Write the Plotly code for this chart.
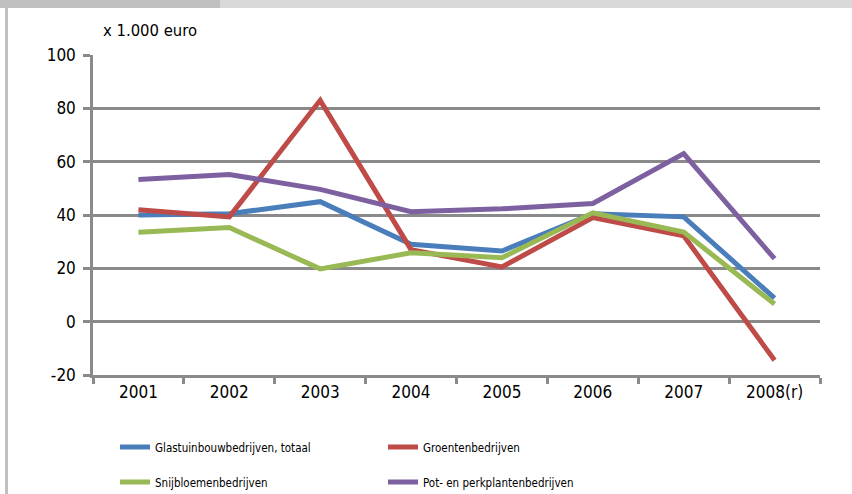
import plotly.graph_objects as go

# jaren (categorie-as)
years = ['2001', '2002', '2003', '2004', '2005', '2006', '2007', '2008(r)']

# x 1.000 euro
glastuinbouw = [40, 40.5, 45, 29, 26.5, 40.5, 39.3, 8.8]
groenten = [42, 39.3, 83, 27, 20.5, 39, 32.2, -14.5]
snijbloemen = [33.5, 35.3, 19.8, 25.8, 24, 40.8, 33.6, 6.6]
potplanten = [53.3, 55.2, 49.6, 41.2, 42.3, 44.3, 63, 23.6]

y_ticks = [-20, 0, 20, 40, 60, 80, 100]
y_ticktext = ['-20', '0', '20', '40', '60', '80', '100']

series = [
    ('Glastuinbouwbedrijven, totaal', glastuinbouw, '#4a7ebb', 'legend'),
    ('Groentenbedrijven', groenten, '#be4b48', 'legend'),
    ('Snijbloemenbedrijven', snijbloemen, '#98b954', 'legend2'),
    ('Pot- en perkplantenbedrijven', potplanten, '#7d60a0', 'legend2'),
]

W, H = 852, 494
L, R, T, B = 93, 32, 55, 119
pw, ph = W - L - R, H - T - B

def px(x):
    return (x - L) / pw

def py(y):
    return (H - B - y) / ph

font = 'DejaVu Sans Condensed, Liberation Sans, Arial'
grid = '#8a8a8a'

fig = go.Figure()
for name, vals, color, leg in series:
    fig.add_trace(go.Scatter(x=years, y=vals, mode='lines', name=name,
                             line=dict(color=color, width=5), legend=leg))

# grijze rand van het kader (afgesneden kop)
fig.add_shape(type='rect', xref='paper', yref='paper', x0=px(0), x1=px(220), y0=py(8), y1=py(0),
              fillcolor='#c0c0c0', line_width=0, layer='below')
fig.add_shape(type='rect', xref='paper', yref='paper', x0=px(220), x1=px(W), y0=py(8), y1=py(0),
              fillcolor='#d9d9d9', line_width=0, layer='below')
fig.add_shape(type='rect', xref='paper', yref='paper', x0=px(5), x1=px(8), y0=py(H), y1=py(8),
              fillcolor='#c0c0c0', line_width=0, layer='below')

fig.add_annotation(text='x 1.000 euro', xref='paper', yref='paper', x=px(101), y=py(30),
                   xanchor='left', yanchor='middle', showarrow=False,
                   font=dict(family=font, size=16.5, color='#000000'))

leg_common = dict(orientation='h', xanchor='left', yanchor='middle', entrywidth=223,
                  entrywidthmode='pixels', bgcolor='rgba(0,0,0,0)',
                  font=dict(family=font, size=11.5, color='#000000'))

fig.update_layout(
    width=W, height=H,
    margin=dict(l=L, r=R, t=T, b=B, autoexpand=False),
    plot_bgcolor='white', paper_bgcolor='white',
    legend=dict(x=px(115), y=py(447), **leg_common),
    legend2=dict(x=px(115), y=py(482), **leg_common),
    xaxis=dict(range=[-0.5, 7.5], showline=True, linecolor=grid, linewidth=2.5,
               ticks='outside', tickson='boundaries', ticklen=6, tickwidth=2.5, tickcolor=grid,
               showgrid=False, automargin=False,
               tickfont=dict(family=font, size=17, color='#000000')),
    yaxis=dict(range=[-20, 100], tickvals=y_ticks, ticktext=y_ticktext,
               showline=True, linecolor=grid, linewidth=2.5,
               showgrid=True, gridcolor=grid, gridwidth=2.5, zeroline=False,
               ticks='outside', ticklen=7, tickwidth=2.5, tickcolor=grid,
               ticklabelstandoff=4, automargin=False,
               tickfont=dict(family=font, size=17, color='#000000')),
)

# de standaard 8px marge van de pagina weghalen
fig.write_html('out.html', config={'displayModeBar': False},
               post_script="document.body.style.margin='0';")
